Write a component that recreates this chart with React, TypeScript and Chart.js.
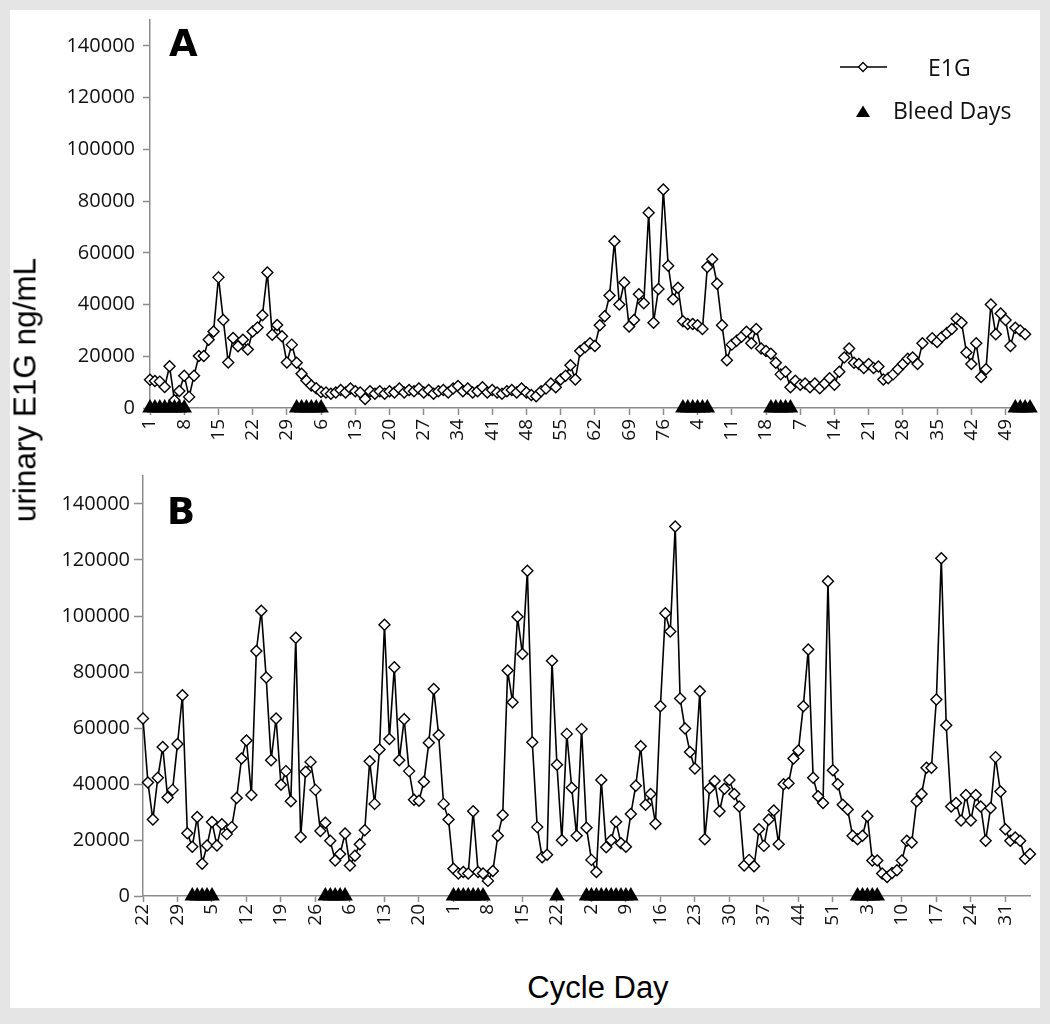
import React, { useEffect, useRef } from 'react';
import { Chart, registerables } from 'chart.js';

Chart.register(...registerables);

// ---------- Panel A ----------
const CYCLE_STARTS_A = [1, 1, 1, 1];
const CYCLE_LENGTHS_A = [30, 79, 18, 54];
const E1G_A: (number | null)[] = [
  10900, 10400, 10200, 8100, 16100, 3000, 6600, 12500, 4300, 12500,
  20100, 20100, 26400, 29600, 50500, 34000, 17600, 27100, 23900, 26400,
  22600, 29600, 31100, 35900, 52400, 28300, 32100, 27700, 17600, 24500,
  17500, 13200, 10600, 8700, 7600, 6200, 6000, 5500, 6000, 7000,
  6000, 7500, 6500, 6000, 3500, 6500, 5500, 6500, 5500, 6500,
  6000, 7500, 6000, 7000, 6500, 7500, 6000, 7000, 5500, 6500,
  7000, 6000, 7500, 8500, 6500, 7500, 6000, 6500, 8000, 6000,
  7000, 6000, 5500, 6500, 7000, 6000, 7500, 6000, 5000, 4500,
  6500, 7500, 9500, 8000, 11000, 12500, 16500, 11000, 22000, 23500,
  25000, 24000, 32000, 35500, 43500, 64500, 40000, 48500, 31500, 34000,
  44000, 40500, 75500, 33000, 46000, 84500, 55000, 42000, 46500, 33500,
  32500, 32500, 32000, 30500, 54500, 57500, 48000, 32000, 18500, 24500,
  26000, 27500, 29500, 25000, 30500, 23000, 22000, 21000, 17500, 13000,
  14000, 8000, 10500, 9000, 9500, 8000, 9500, 7600, 9500, 11500,
  9000, 14000, 19500, 23000, 17500, 17000, 15500, 17000, 15500, 16000,
  11000, 11500, 13000, 15000, 17000, 19000, 19500, 17000, 25000, null,
  27000, 25500, 27500, 29000, 30500, 34500, 33000, 21500, 17000, 25000,
  12000, 15000, 40000, 28500, 36500, 34000, 24000, 31000, 30000, 28500,
  null,
];
const BLEED_IDX_A = [
  0, 1, 2, 3, 4, 5, 6, 7,
  30, 31, 32, 33, 34, 35,
  109, 110, 111, 112, 113, 114,
  127, 128, 129, 130, 131,
  177, 178, 179, 180,
];

// ---------- Panel B ----------
const CYCLE_STARTS_B = [22, 1, 1, 1, 1, 1];
const CYCLE_LENGTHS_B = [10, 27, 26, 27, 55, 36];
const E1G_B: (number | null)[] = [
  63400, 40500, 27300, 42200, 53200, 35200, 37900, 54300, 71700, 22400,
  17600, 28200, 11500, 18000, 26400, 18000, 25600, 22100, 24600, 35000,
  49100, 55500, 36100, 87500, 101900, 78000, 48500, 63400, 39700, 44600,
  33800, 92200, 21100, 44400, 47900, 37900, 23200, 26200, 19700, 12700,
  15000, 22300, 10900, 14400, 18500, 23500, 48100, 32900, 52300, 96900,
  56100, 81700, 48500, 63100, 44600, 34400, 34000, 40800, 54700, 73900,
  57500, 32900, 27300, 9700, 8000, 8600, 8000, 30300, 8600, 8000,
  5400, 8900, 21500, 28900, 80500, 69200, 99700, 86400, 116200, 54900,
  24600, 13800, 14700, 84000, 46900, 19900, 57900, 38700, 21500, 59600,
  24400, 12900, 8600, 41400, 17400, 19900, 26500, 18800, 17600, 29300,
  39400, 53500, 32600, 36400, 25800, 67800, 101000, 94500, 132000, 70500,
  59800, 51400, 45500, 73100, 20300, 38500, 41100, 30300, 38300, 41400,
  36400, 32000, 10900, 12900, 10600, 23800, 17900, 27300, 30500, 18500,
  39900, 40300, 49100, 52000, 67800, 88000, 42200, 35600, 33200, 112400,
  44900, 39900, 32600, 30900, 21500, 20300, 21500, 28500, 12700, 12700,
  8000, 6800, 8200, 9200, 12700, 19700, 19100, 33800, 36400, 45800,
  45800, 70200, 120600, 61000, 32000, 33200, 27000, 36100, 27000, 36100,
  32000, 19700, 31400, 49600, 37300, 23800, 19700, 20900, 19700, 13300,
  15000,
];
const BLEED_IDX_B = [
  10, 11, 12, 13, 14,
  37, 38, 39, 40, 41,
  63, 64, 65, 66, 67, 68, 69,
  84,
  90, 91, 92, 93, 94, 95, 96, 97, 98, 99,
  145, 146, 147, 148, 149,
];

const Y_TICKS = [0, 20000, 40000, 60000, 80000, 100000, 120000, 140000];
const Y_MAX = 150000;
const LABEL_EVERY = 7;

const SERIES_NAMES = ['E1G', 'Bleed Days'];
const Y_TITLE = 'urinary E1G ng/mL';
const X_TITLE = 'Cycle Day';

function cycleDayLabels(starts: number[], lengths: number[]): string[] {
  const out: string[] = [];
  starts.forEach((s, c) => {
    for (let d = 0; d < lengths[c]; d++) out.push(String(s + d));
  });
  return out;
}

const AXIS_GRAY = '#8c8c8c';
const TEXT = '#111';

type PanelOpts = {
  letter: string;
  letterX: number;
  letterY: number;
  padTop: number;
  padRight: number;
  yWidth: number;
  xHeight: number;
  yTickLen: number;
  yPad: number;
  xTickLen: number;
  xPad: number;
  legend: boolean;
};

function makeConfig(labels: string[], values: (number | null)[], bleedIdx: number[], o: PanelOpts): any {
  const bleed = labels.map((_, i) => (bleedIdx.includes(i) ? 0 : null));
  const decor = {
    id: 'decor' + o.letter,
    afterDraw(chart: any) {
      const ctx = chart.ctx as CanvasRenderingContext2D;
      ctx.save();
      ctx.fillStyle = '#000';
      ctx.font = 'bold 37px "DejaVu Sans"';
      ctx.textBaseline = 'alphabetic';
      ctx.textAlign = 'left';
      ctx.fillText(o.letter, o.letterX, o.letterY);
      if (o.legend) {
        // E1G entry
        ctx.strokeStyle = '#000';
        ctx.lineWidth = 1.6;
        ctx.beginPath();
        ctx.moveTo(840, 67);
        ctx.lineTo(887, 67);
        ctx.stroke();
        ctx.beginPath();
        ctx.moveTo(858.5, 67);
        ctx.lineTo(863, 62.5);
        ctx.lineTo(867.5, 67);
        ctx.lineTo(863, 71.5);
        ctx.closePath();
        ctx.fillStyle = '#fff';
        ctx.fill();
        ctx.lineWidth = 1.3;
        ctx.stroke();
        // Bleed entry
        ctx.fillStyle = '#000';
        ctx.beginPath();
        ctx.moveTo(863, 105.5);
        ctx.lineTo(870, 117);
        ctx.lineTo(856, 117);
        ctx.closePath();
        ctx.fill();
        ctx.fillStyle = TEXT;
        ctx.font = '23px "Open Sans"';
        ctx.textBaseline = 'middle';
        ctx.fillText(SERIES_NAMES[0], 928, 69);
        ctx.fillText(SERIES_NAMES[1], 893, 112);
      }
      ctx.restore();
    },
  };
  return {
    type: 'line',
    data: {
      labels,
      datasets: [
        {
          label: SERIES_NAMES[0],
          data: values,
          borderColor: '#000',
          borderWidth: 1.6,
          pointStyle: 'rectRot',
          pointRadius: 5.5,
          pointBorderWidth: 1.4,
          pointBackgroundColor: '#fff',
          pointBorderColor: '#000',
          tension: 0,
          spanGaps: false,
          order: 2,
        },
        {
          label: SERIES_NAMES[1],
          data: bleed,
          showLine: false,
          pointStyle: 'triangle',
          pointRadius: 9,
          pointBorderWidth: 0,
          pointBackgroundColor: '#000',
          pointBorderColor: '#000',
          clip: false,
          order: 1,
        },
      ],
    },
    options: {
      responsive: false,
      maintainAspectRatio: false,
      animation: false,
      devicePixelRatio: 1,
      events: [],
      layout: { padding: { left: 0, right: o.padRight, top: o.padTop, bottom: 0 } },
      plugins: { legend: { display: false }, tooltip: { enabled: false } },
      scales: {
        x: {
          type: 'category',
          offset: false,
          afterBuildTicks: (s: any) => {
            s.ticks = s.ticks.filter((t: any) => t.value % LABEL_EVERY === 0);
          },
          afterFit: (s: any) => {
            s.height = o.xHeight;
          },
          grid: {
            display: true,
            drawOnChartArea: false,
            drawTicks: true,
            tickLength: o.xTickLen,
            tickColor: AXIS_GRAY,
            tickWidth: 1.5,
          },
          border: { display: true, color: AXIS_GRAY, width: 1.5 },
          ticks: {
            autoSkip: false,
            maxRotation: 90,
            minRotation: 90,
            padding: o.xPad,
            color: TEXT,
            font: { family: 'Open Sans', size: 19 },
          },
        },
        y: {
          type: 'linear',
          min: 0,
          max: Y_MAX,
          afterBuildTicks: (s: any) => {
            s.ticks = Y_TICKS.map((v) => ({ value: v }));
          },
          afterFit: (s: any) => {
            s.width = o.yWidth;
          },
          grid: {
            display: true,
            drawOnChartArea: false,
            drawTicks: true,
            tickLength: o.yTickLen,
            tickColor: AXIS_GRAY,
            tickWidth: 1.5,
          },
          border: { display: true, color: AXIS_GRAY, width: 1.5 },
          ticks: {
            padding: o.yPad,
            color: TEXT,
            font: { family: 'Open Sans', size: 20 },
            callback: (v: any) => String(v),
          },
        },
      },
    },
    plugins: [decor],
  };
}

export default function App() {
  const refA = useRef<HTMLCanvasElement>(null);
  const refB = useRef<HTMLCanvasElement>(null);

  useEffect(() => {
    let cancelled = false;
    const charts: Chart[] = [];
    const build = () => {
      if (cancelled || !refA.current || !refB.current) return;
      const labelsA = cycleDayLabels(CYCLE_STARTS_A, CYCLE_LENGTHS_A);
      const labelsB = cycleDayLabels(CYCLE_STARTS_B, CYCLE_LENGTHS_B);
      charts.push(
        new Chart(
          refA.current,
          makeConfig(labelsA, E1G_A, BLEED_IDX_A, {
            letter: 'A',
            letterX: 169,
            letterY: 56,
            padTop: 13,
            padRight: 20,
            yWidth: 150,
            xHeight: 52,
            yTickLen: 7,
            yPad: 8,
            xTickLen: 7,
            xPad: 4,
            legend: true,
          })
        )
      );
      charts.push(
        new Chart(
          refB.current,
          makeConfig(labelsB, E1G_B, BLEED_IDX_B, {
            letter: 'B',
            letterX: 167,
            letterY: 64,
            padTop: 12,
            padRight: 20,
            yWidth: 143,
            xHeight: 64,
            yTickLen: 9,
            yPad: 4,
            xTickLen: 6,
            xPad: 2,
            legend: false,
          })
        )
      );
    };
    const fonts = (document as any).fonts;
    if (fonts && fonts.load) {
      Promise.all([
        fonts.load('20px "Open Sans"'),
        fonts.load('bold 37px "DejaVu Sans"'),
        fonts.load('32px "Liberation Sans"'),
      ]).then(build, build);
    } else {
      build();
    }
    return () => {
      cancelled = true;
      charts.forEach((c) => c.destroy());
    };
  }, []);

  return (
    <div
      style={{
        position: 'absolute',
        left: 0,
        top: 0,
        width: 1050,
        height: 1024,
        background: '#e5e5e5',
        overflow: 'hidden',
      }}
    >
      <div style={{ position: 'absolute', left: 10, top: 10, width: 1030, height: 998, background: '#fff' }} />
      <canvas
        ref={refA}
        width={1050}
        height={460}
        style={{ position: 'absolute', left: 0, top: 0, width: 1050, height: 460 }}
      />
      <canvas
        ref={refB}
        width={1050}
        height={500}
        style={{ position: 'absolute', left: 0, top: 460, width: 1050, height: 500 }}
      />
      <div
        style={{
          position: 'absolute',
          left: 25,
          top: 390,
          transform: 'translate(-50%, -50%) rotate(-90deg)',
          whiteSpace: 'nowrap',
          fontFamily: '"Liberation Sans", Arial, sans-serif',
          fontSize: 31.5,
          color: '#000',
        }}
      >
        {Y_TITLE}
      </div>
      <div
        style={{
          position: 'absolute',
          left: 598,
          top: 988,
          transform: 'translate(-50%, -50%)',
          whiteSpace: 'nowrap',
          fontFamily: '"Liberation Sans", Arial, sans-serif',
          fontSize: 31,
          color: '#000',
        }}
      >
        {X_TITLE}
      </div>
    </div>
  );
}
